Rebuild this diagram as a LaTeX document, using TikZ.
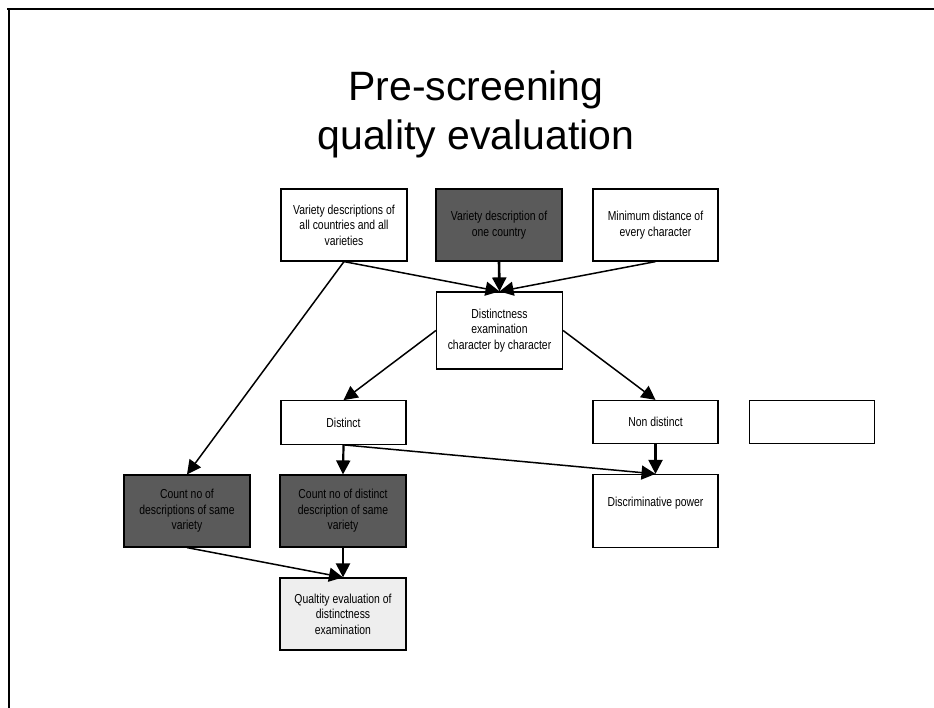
\documentclass[tikz,border=0pt]{standalone}
\usepackage{fontspec}
\setmainfont{Liberation Sans}
\newfontfamily\boxfont[FakeStretch=0.8]{Liberation Sans}
\usetikzlibrary{arrows.meta}
\definecolor{darkbox}{HTML}{5A5A5A}
\definecolor{lightbox}{HTML}{EEEEEE}
\tikzset{
  box/.style={draw=black, line width=1.2pt, fill=white, rectangle, align=center,
    minimum width=126pt, minimum height=72pt, inner sep=2pt,
    font=\boxfont\fontsize{13}{15.5}\selectfont},
  darkfill/.style={fill=darkbox},
  lightfill/.style={fill=lightbox},
  tip/.style={-{Triangle[length=14pt,width=14pt]}},
  conn/.style={line width=1.5pt, tip},
  vconn/.style={line width=2.2pt, tip},
  frame/.style={line width=2pt}
}
\begin{document}
\begin{tikzpicture}[x=1pt,y=-1pt]
\useasboundingbox (0,0) rectangle (934,708);
% frame
\coordinate (fa) at (7,9);
\coordinate (fb) at (934,9);
\coordinate (fc) at (9,9);
\coordinate (fd) at (9,708);
\draw[frame] (fa) -- (fb);
\draw[frame] (fc) -- (fd);
% title
\node[align=center, font=\fontsize{41}{49}\selectfont] (title) at (476,114) {Pre-screening\\quality evaluation};
% boxes
\node[box] (b1) at (344,225) {Variety descriptions of\\all countries and all\\varieties};
\node[box, darkfill] (b2) at (499,225) {Variety description of\\one country};
\node[box, minimum width=125pt] (b3) at (655.5,225) {Minimum distance of\\every character};
\node[box, minimum height=77pt] (b4) at (499.5,330.5) {Distinctness\\examination\\character by character};
\node[box, minimum width=125pt, minimum height=43.5pt] (dist) at (343.5,422.5) {Distinct};
\node[box, minimum width=125pt, minimum height=43pt] (ndist) at (655.5,422) {Non distinct};
\node[box, minimum width=125pt, minimum height=43pt] (empty) at (812,422) {};
\node[box, minimum width=125pt, minimum height=73pt,
  label={[font=\boxfont\fontsize{13}{15.5}\selectfont, yshift=8pt]center:Discriminative power}] (disc) at (655.5,511) {};
\node[box, darkfill] (c1) at (187,511) {Count no of\\descriptions of same\\variety};
\node[box, darkfill] (c2) at (343,511) {Count no of distinct\\description of same\\variety};
\node[box, lightfill] (qual) at (343,614) {Qualtity evaluation of\\distinctness\\examination};
% connectors
\draw[conn] (b1.south) -- (b4.north);
\draw[line width=2.6pt, tip] (b2.south) -- (b4.north);
\draw[conn] (b3.south) -- (b4.north);
\draw[conn] (b1.south) -- (c1.north);
\draw[conn] (b4.west) -- (dist.north);
\draw[conn] (b4.east) -- (ndist.north);
\draw[vconn] (dist.south) -- (c2.north);
\draw[conn] (dist.south) -- (disc.north);
\draw[vconn] (ndist.south) -- (disc.north);
\draw[conn] (c1.south) -- (qual.north);
\draw[vconn] (c2.south) -- (qual.north);
\end{tikzpicture}
\end{document}
